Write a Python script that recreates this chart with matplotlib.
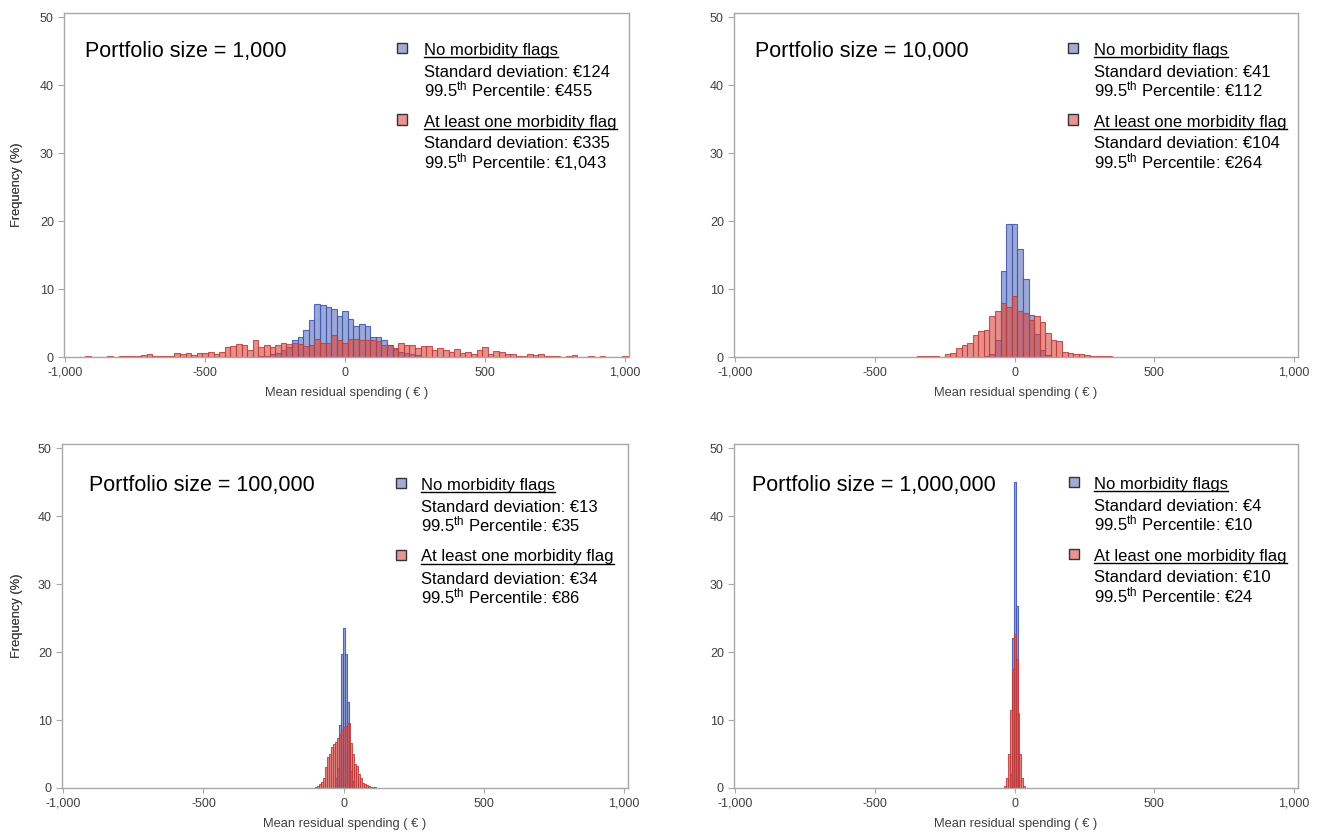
import numpy as np
import matplotlib
matplotlib.use("Agg")
import matplotlib.pyplot as plt
from matplotlib.patches import Rectangle
from matplotlib.lines import Line2D

plt.rcParams['font.family'] = ['Liberation Sans', 'DejaVu Sans']
plt.rcParams['mathtext.fontset'] = 'custom'
plt.rcParams['mathtext.rm'] = 'Liberation Sans'
plt.rcParams['mathtext.it'] = 'Liberation Sans:italic'
plt.rcParams['mathtext.bf'] = 'Liberation Sans:bold'

# ---- data (frequency in % per bin) ----
titles = ["Portfolio size = 1,000", "Portfolio size = 10,000",
          "Portfolio size = 100,000", "Portfolio size = 1,000,000"]
sd_none = ["€124", "€41", "€13", "€4"]
p995_none = ["€455", "€112", "€35", "€10"]
sd_flag = ["€335", "€104", "€34", "€10"]
p995_flag = ["€1,043", "€264", "€86", "€24"]

bin_width = [20, 20, 7, 7]

# first bin centre + heights, no morbidity flags
blue_start = [-300, -100, -28, -14]
blue_1k = [0.1, 0.2, 0.4, 0.6, 1.0, 1.5, 2.5, 2.9, 3.9, 5.4, 7.8, 7.7, 7.3, 7.0, 6.0,
           6.8, 5.6, 4.5, 4.8, 4.5, 2.9, 2.9, 2.5, 1.8, 1.2, 0.8, 0.6, 0.4, 0.3]
blue_10k = [0.1, 0.4, 2.5, 12.6, 19.6, 19.5, 15.9, 11.5, 6.2, 3.4, 1.1, 0.3]
blue_100k = [1.5, 3.0, 9.2, 19.7, 23.6, 19.7, 12.6, 6.0, 2.5, 1.0]
blue_1m = [2.0, 22.0, 45.0, 26.7, 3.0]

# at least one morbidity flag
red_start = [-940, -340, -98, -35]
red_1k = [0.0, 0.15, 0.0, 0.0, 0.0, 0.15, 0.0, 0.15, 0.15, 0.15, 0.2, 0.3, 0.4, 0.1,
          0.1, 0.1, 0.1, 0.6, 0.4, 0.6, 0.3, 0.6, 0.6, 0.8, 0.5, 0.7, 1.4, 1.6, 1.9,
          1.7, 1.1, 2.5, 1.4, 1.7, 1.4, 1.7, 2.1, 1.9, 2.1, 1.9, 1.6, 1.8, 2.6, 2.1,
          2.0, 3.2, 2.5, 2.1, 2.6, 2.6, 2.5, 2.5, 2.5, 2.4, 1.8, 1.7, 1.3, 2.0, 1.7,
          1.8, 1.3, 1.6, 1.6, 1.1, 1.3, 1.1, 0.8, 1.2, 0.6, 0.8, 0.5, 1.0, 1.5, 0.4,
          0.9, 0.7, 0.4, 0.5, 0.1, 0.1, 0.5, 0.35, 0.5, 0.1, 0.1, 0.1, 0.0, 0.1, 0.25,
          0.0, 0.0, 0.1, 0.0, 0.1, 0.0, 0.0, 0.0, 0.1]
red_10k = [0.1, 0.1, 0.2, 0.2, 0.05, 0.5, 0.65, 1.3, 1.8, 2.1, 3.2, 3.8, 3.9, 6.1,
           6.8, 7.9, 7.3, 8.9, 6.7, 6.5, 5.4, 6.1, 5.2, 3.6, 2.5, 2.3, 0.7, 0.6, 0.5,
           0.4, 0.3, 0.1, 0.1, 0.1, 0.1]
red_100k = [0.15, 0.3, 0.6, 0.9, 1.5, 3.1, 4.6, 5.0, 6.1, 6.5, 6.7, 7.3, 8.0, 8.5,
            9.0, 9.1, 9.5, 9.5, 6.6, 5.0, 3.6, 3.3, 2.0, 1.4, 0.7, 0.6, 0.4, 0.3,
            0.15, 0.1, 0.1]
red_1m = [0.3, 1.5, 5.0, 11.5, 17.5, 22.7, 19.0, 11.0, 5.0, 1.5, 0.3]

blue_data = [blue_1k, blue_10k, blue_100k, blue_1m]
red_data = [red_1k, red_10k, red_100k, red_1m]

xticks = [-1000, -500, 0, 500, 1000]
xtick_labels = ["-1,000", "-500", "0", "500", "1,000"]
yticks = [0, 10, 20, 30, 40, 50]

# ---- layout (pixels of the 1317x833 picture) ----
W, H = 1317, 833
axes_px = [(64, 13, 629, 357), (734, 13, 1298, 357),
           (62, 444, 628, 788), (734, 444, 1298, 788)]
title_px = [(85, 50), (755, 50), (89, 484), (752, 484)]
legend_px = [(402, 424, 49), (1073, 1094, 49), (401, 421, 484), (1074, 1094, 483)]

blue_face = (0.23, 0.33, 0.69, 0.5)
blue_edge = (0.25, 0.35, 0.70, 0.9)
red_face = (0.85, 0.27, 0.24, 0.6)
red_edge = (0.74, 0.24, 0.24, 0.85)
grey = '#a8a8a8'
tick_text = '#404040'

fig = plt.figure(figsize=(W / 100, H / 100), dpi=100)

underlined = []
for i in range(4):
    l, t, r, b = axes_px[i]
    ax = fig.add_axes([l / W, 1 - b / H, (r - l) / W, (b - t) / H])
    w = bin_width[i]
    bc = blue_start[i] + w * np.arange(len(blue_data[i]))
    rc = red_start[i] + w * np.arange(len(red_data[i]))
    ax.bar(bc, blue_data[i], width=w, facecolor=blue_face, edgecolor=blue_edge, linewidth=0.8)
    ax.bar(rc, red_data[i], width=w, facecolor=red_face, edgecolor=red_edge, linewidth=0.8)

    ax.set_xlim(-1005, 1015)
    ax.set_ylim(0, 50.6)
    ax.set_xticks(xticks)
    ax.set_xticklabels(xtick_labels)
    ax.set_yticks(yticks)
    for s in ax.spines.values():
        s.set_color(grey)
        s.set_linewidth(1)
    ax.tick_params(axis='both', colors=grey, labelcolor=tick_text, labelsize=9, width=0.8)
    ax.tick_params(axis='x', length=3.5, pad=3.5)
    ax.tick_params(axis='y', length=4.3, pad=3)

    ax.set_xlabel("Mean residual spending ( € )", fontsize=9.3, color=tick_text)
    ax.set_ylabel("Frequency (%)", fontsize=9.3, color=tick_text)
    ax.xaxis.label.set_va('center')
    ax.yaxis.label.set_va('center')
    ax.xaxis.set_label_coords(0.5, -36 / (b - t))
    ax.yaxis.set_label_coords((17 - l) / (r - l), 0.5)

    tx, ty = title_px[i]
    fig.text(tx / W, 1 - (ty + 7.5) / H, titles[i], fontsize=15.5, va='baseline', ha='left')

    sx, lx, ly = legend_px[i]
    offsets = [0, 22, 41.5, 71.5, 93.5, 113]
    lines = ["No morbidity flags",
             "Standard deviation: " + sd_none[i],
             r"99.5$^{\mathrm{th}}$ Percentile: " + p995_none[i],
             "At least one morbidity flag",
             "Standard deviation: " + sd_flag[i],
             r"99.5$^{\mathrm{th}}$ Percentile: " + p995_flag[i]]
    for k, (off, s) in enumerate(zip(offsets, lines)):
        base = ly + off + 6
        txt = fig.text(lx / W, 1 - base / H, s, fontsize=12, va='baseline', ha='left')
        if k in (0, 3):
            underlined.append((txt, base + 2))
    for off, fc in ((0, '#a3acd6'), (71.5, '#e89592')):
        cy = ly + off - 1
        fig.patches.append(Rectangle(((sx - 5) / W, 1 - (cy + 5) / H), 10 / W, 10 / H,
                                     transform=fig.transFigure, facecolor=fc,
                                     edgecolor='#333333', linewidth=1.0))

fig.canvas.draw()
renderer = fig.canvas.get_renderer()
for txt, yb in underlined:
    bb = txt.get_window_extent(renderer)
    yf = 1 - yb / H
    fig.add_artist(Line2D([bb.x0 / W, bb.x1 / W], [yf, yf], transform=fig.transFigure,
                          color='black', linewidth=1.0))

fig.savefig("out.png", dpi=100)
